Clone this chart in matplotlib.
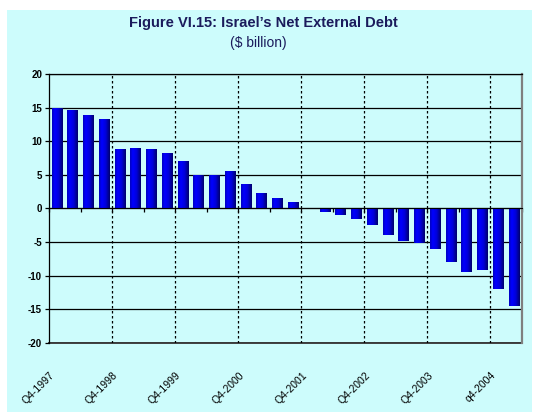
import numpy as np
import matplotlib
matplotlib.use("Agg")
import matplotlib.pyplot as plt
from matplotlib.patches import Rectangle
from matplotlib.colors import LinearSegmentedColormap

# quarterly net external debt, $ billion (Q4-1997 .. Q1-2005)
quarters = ["Q4-1997"] + [f"Q{q}-{y}" for y in range(1998, 2005) for q in (1, 2, 3, 4)] + ["Q1-2005"]
debt = [15.0, 14.6, 13.9, 13.3, 8.8, 9.0, 8.8, 8.3, 7.1, 5.0,
        5.0, 5.6, 3.6, 2.3, 1.6, 1.0, 0.0, -0.5, -1.0, -1.5,
        -2.5, -4.0, -4.9, -5.2, -6.0, -7.9, -9.4, -9.1, -11.9, -14.5]
tick_labels = ["Q4-1997", "Q4-1998", "Q4-1999", "Q4-2000",
               "Q4-2001", "Q4-2002", "Q4-2003", "q4-2004"]

W, H = 536, 412
bg = "#cdfcfc"
navy = "#1b1b5c"
tick_font = ["Liberation Sans Narrow", "Liberation Sans", "DejaVu Sans"]
plt.rcParams["axes.unicode_minus"] = False

fig = plt.figure(figsize=(W / 100, H / 100), dpi=100)
fig.patch.set_facecolor("white")
fig.add_artist(Rectangle((7 / W, 0), (532 - 7) / W, 1 - 10 / H,
                         transform=fig.transFigure, facecolor=bg,
                         edgecolor="none", zorder=0))

ax = fig.add_axes([49 / W, 1 - 343 / H, (522 - 49) / W, (343 - 74) / H])
ax.set_facecolor("none")

x = np.arange(len(quarters))
bars = ax.bar(x, debt, width=0.68, color="none", edgecolor="none", zorder=3)

# horizontal gradient inside each bar
cmap = LinearSegmentedColormap.from_list(
    "bar", [(0, "#0000c0"), (0.25, "#0000ff"), (0.6, "#0000dc"), (1, "#00006c")])
grad = np.linspace(0, 1, 64).reshape(1, -1)
for b in bars:
    x0, y0 = b.get_x(), b.get_y()
    w, h = b.get_width(), b.get_height()
    if h == 0:
        continue
    im = ax.imshow(grad, cmap=cmap, aspect="auto", zorder=3,
                   extent=(x0, x0 + w, min(y0, y0 + h), max(y0, y0 + h)))
    im.set_clip_path(b)

ax.set_xlim(-0.5, len(quarters) - 0.5)
ax.set_ylim(-20, 20)
ax.set_yticks(np.arange(-20, 21, 5))
ax.yaxis.grid(True, color="black", lw=0.9)
ax.set_axisbelow(True)

# year separators (dotted) before each Q4
for xv in np.arange(3.5, len(quarters), 4):
    ax.axvline(xv, color="black", lw=0.9, ls=(0, (2, 2)), zorder=1)

# category axis at zero with tick marks every two quarters
ax.spines["bottom"].set_position(("data", 0))
ax.spines["bottom"].set_color("black")
ax.spines["bottom"].set_zorder(4)
ax.set_xticks(np.arange(-0.5, len(quarters), 2))
ax.tick_params(axis="x", direction="out", length=3, width=0.9, labelbottom=False)
ax.tick_params(axis="y", length=3, width=0.9, pad=2)
for lab in ax.get_yticklabels():
    lab.set_fontfamily(tick_font)
    lab.set_fontsize(7)
    lab.set_fontweight("bold")

ax.spines["left"].set_color("black")
ax.spines["top"].set_color("black")
ax.spines["right"].set_color("#7f7f7f")
ax.spines["right"].set_linewidth(1.6)
for s in ("left", "top"):
    ax.spines[s].set_linewidth(0.9)

# labels along the bottom of the plot area
sec = ax.secondary_xaxis(0.0)
sec.set_xticks(x[::4] - 0.25, tick_labels)
sec.tick_params(length=0, pad=22)
sec.spines["bottom"].set_color("#404040")
sec.spines["bottom"].set_linewidth(1.4)
for lab in sec.get_xticklabels():
    lab.set_rotation(45)
    lab.set_rotation_mode("anchor")
    lab.set_ha("right")
    lab.set_va("center")
    lab.set_fontfamily(tick_font)
    lab.set_fontsize(7.5)

fig.text(263 / W, 1 - 23 / H, "Figure VI.15: Israel\u2019s Net External Debt",
         ha="center", va="center", fontsize=10.5, fontweight="bold",
         color=navy, family="Liberation Sans")
fig.text(258 / W, 1 - 43 / H, "($ billion)", ha="center", va="center",
         fontsize=10, color=navy, family="Liberation Sans")

fig.savefig("out.png", dpi=100)
